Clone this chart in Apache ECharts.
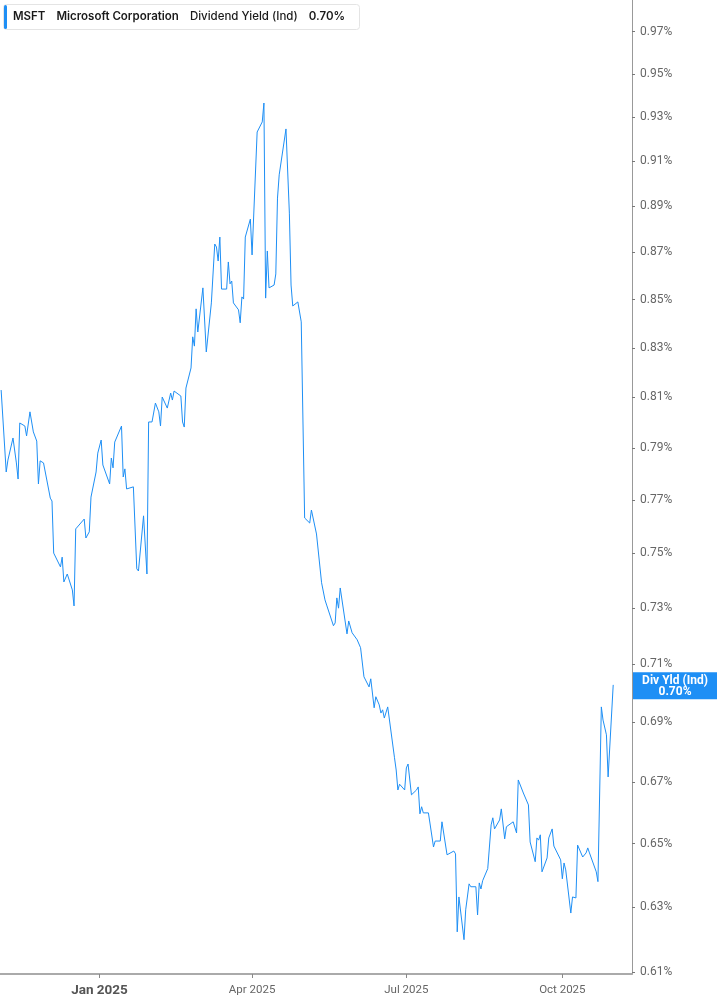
<!DOCTYPE html>
<html>
<head>
<meta charset="utf-8">
<title>MSFT Dividend Yield</title>
<script src="https://cdn.jsdelivr.net/npm/echarts@6.0.0/dist/echarts.min.js"></script>
<style>
  html, body { margin: 0; padding: 0; background: #fff; }
  #main { width: 717px; height: 1005px; }
</style>
</head>
<body>
<div id="main"></div>
<script>
var ticker = 'MSFT';
var company = 'Microsoft Corporation';
var measure = 'Dividend Yield (Ind)';
var shortMeasure = 'Div Yld (Ind)';

// trading dates
var dates = [
  '2024-11-04','2024-11-07','2024-11-08','2024-11-11','2024-11-13','2024-11-14','2024-11-15','2024-11-18','2024-11-19','2024-11-21',
  '2024-11-23','2024-11-25','2024-11-26','2024-11-27','2024-11-29','2024-12-03','2024-12-04','2024-12-05','2024-12-09','2024-12-10',
  '2024-12-11','2024-12-12','2024-12-13','2024-12-16','2024-12-17','2024-12-18','2024-12-23','2024-12-24','2024-12-26','2024-12-27',
  '2024-12-30','2024-12-31','2025-01-02','2025-01-03','2025-01-07','2025-01-08','2025-01-09','2025-01-10','2025-01-14','2025-01-15',
  '2025-01-16','2025-01-17','2025-01-21','2025-01-23','2025-01-24','2025-01-27','2025-01-29','2025-01-30','2025-02-01','2025-02-03',
  '2025-02-05','2025-02-06','2025-02-07','2025-02-10','2025-02-12','2025-02-13','2025-02-14','2025-02-18','2025-02-19','2025-02-20',
  '2025-02-21','2025-02-24','2025-02-25','2025-02-26','2025-02-27','2025-02-28','2025-03-03','2025-03-04','2025-03-05','2025-03-08',
  '2025-03-10','2025-03-11','2025-03-12','2025-03-13','2025-03-14','2025-03-17','2025-03-18','2025-03-19','2025-03-20','2025-03-21',
  '2025-03-24','2025-03-25','2025-03-26','2025-03-27','2025-03-28','2025-03-31','2025-04-01','2025-04-02','2025-04-04','2025-04-07',
  '2025-04-08','2025-04-09','2025-04-10','2025-04-11','2025-04-14','2025-04-15','2025-04-16','2025-04-17','2025-04-21','2025-04-23',
  '2025-04-24','2025-04-25','2025-04-28','2025-04-30','2025-05-02','2025-05-05','2025-05-06','2025-05-07','2025-05-09','2025-05-12',
  '2025-05-13','2025-05-14','2025-05-15','2025-05-19','2025-05-20','2025-05-21','2025-05-22','2025-05-23','2025-05-27','2025-05-28',
  '2025-05-30','2025-06-02','2025-06-04','2025-06-06','2025-06-09','2025-06-10','2025-06-12','2025-06-13','2025-06-15','2025-06-16',
  '2025-06-17','2025-06-18','2025-06-20','2025-06-24','2025-06-25','2025-06-26','2025-06-27','2025-06-30','2025-07-01','2025-07-02',
  '2025-07-04','2025-07-07','2025-07-08','2025-07-09','2025-07-10','2025-07-11','2025-07-14','2025-07-15','2025-07-16','2025-07-17',
  '2025-07-18','2025-07-21','2025-07-22','2025-07-23','2025-07-25','2025-07-29','2025-07-30','2025-07-31','2025-08-01','2025-08-04',
  '2025-08-05','2025-08-07','2025-08-08','2025-08-11','2025-08-12','2025-08-13','2025-08-14','2025-08-15','2025-08-18','2025-08-20',
  '2025-08-21','2025-08-22','2025-08-25','2025-08-26','2025-08-28','2025-08-29','2025-09-02','2025-09-04','2025-09-05','2025-09-08',
  '2025-09-09','2025-09-11','2025-09-12','2025-09-15','2025-09-16','2025-09-17','2025-09-18','2025-09-19','2025-09-22','2025-09-23',
  '2025-09-24','2025-09-25','2025-09-26','2025-09-30','2025-10-01','2025-10-02','2025-10-03','2025-10-06','2025-10-07','2025-10-09',
  '2025-10-10','2025-10-13','2025-10-15','2025-10-16','2025-10-17','2025-10-21','2025-10-22','2025-10-23','2025-10-24','2025-10-25',
  '2025-10-27','2025-10-28','2025-10-29','2025-10-31'
];

// dividend yield in %
var yieldValues = [
  0.8129,0.7807,0.7853,0.7939,0.7842,0.7780,0.7998,0.7986,0.7947,0.8042,
  0.7963,0.7927,0.7761,0.7850,0.7842,0.7707,0.7696,0.7501,0.7450,0.7486,
  0.7395,0.7388,0.7424,0.7366,0.7308,0.7591,0.7628,0.7557,0.7580,0.7711,
  0.7807,0.7880,0.7931,0.7834,0.7761,0.7861,0.7823,0.7923,0.7986,0.7788,
  0.7819,0.7742,0.7750,0.7443,0.7435,0.7640,0.7424,0.8002,0.8002,0.8077,
  0.8042,0.7986,0.8101,0.8057,0.8117,0.8089,0.8125,0.8105,0.8002,0.7982,
  0.8137,0.8218,0.8345,0.8307,0.8461,0.8365,0.8549,0.8544,0.8283,0.8486,
  0.8736,0.8723,0.8663,0.8766,0.8544,0.8544,0.8659,0.8566,0.8578,0.8486,
  0.8457,0.8403,0.8511,0.8502,0.8766,0.8844,0.8689,0.8693,0.9232,0.9278,
  0.9365,0.8506,0.8706,0.8549,0.8561,0.8608,0.8936,0.9039,0.9246,0.8870,
  0.8561,0.8473,0.8490,0.8407,0.7632,0.7613,0.7662,0.7658,0.7572,0.7392,
  0.7392,0.7330,0.7311,0.7237,0.7247,0.7337,0.7300,0.7373,0.7208,0.7254,
  0.7212,0.7187,0.7159,0.7057,0.7022,0.7050,0.6950,0.6988,0.6960,0.6932,
  0.6943,0.6915,0.6953,0.6781,0.6740,0.6674,0.6693,0.6674,0.6747,0.6760,
  0.6658,0.6674,0.6684,0.6596,0.6619,0.6599,0.6599,0.6563,0.6563,0.6489,
  0.6508,0.6508,0.6570,0.6567,0.6464,0.6476,0.6467,0.6223,0.6331,0.6199,
  0.6291,0.6372,0.6363,0.6363,0.6275,0.6375,0.6356,0.6382,0.6420,0.6560,
  0.6583,0.6547,0.6576,0.6612,0.6515,0.6554,0.6570,0.6534,0.6707,0.6664,
  0.6658,0.6625,0.6505,0.6442,0.6518,0.6511,0.6528,0.6410,0.6454,0.6518,
  0.6515,0.6547,0.6492,0.6448,0.6388,0.6438,0.6416,0.6281,0.6331,0.6328,
  0.6495,0.6457,0.6470,0.6486,0.6470,0.6410,0.6379,0.6379,0.6953,0.6908,
  0.6858,0.6717,0.6717,0.7029
];

var yTicks = [0.61, 0.63, 0.65, 0.67, 0.69, 0.71, 0.73, 0.75, 0.77, 0.79, 0.81, 0.83, 0.85, 0.87, 0.89, 0.91, 0.93, 0.95, 0.97];
var xTicks = ['2025-01-01', '2025-04-01', '2025-07-01', '2025-10-01'];
var monthNames = ['Jan', 'Feb', 'Mar', 'Apr', 'May', 'Jun', 'Jul', 'Aug', 'Sep', 'Oct', 'Nov', 'Dec'];

var blue = '#1e8ff5';
var lastValue = yieldValues[yieldValues.length - 1];

function toTime(s) {
    return new Date(s.replace(' ', 'T') + (s.length > 10 ? ':00Z' : 'T00:00:00Z')).getTime();
}

// the y scale is logarithmic: plot ln(value) on a value axis
var lineData = dates.map(function (d, i) {
    return [toTime(d), Math.log(yieldValues[i])];
});

var myChart = echarts.init(document.getElementById('main'));

var option = {
    animation: false,
    backgroundColor: '#fff',
    title: {
        left: 3,
        top: 3,
        padding: [7, 15, 7, 10],
        backgroundColor: '#fff',
        borderColor: '#e4e4e4',
        borderWidth: 1,
        borderRadius: 3,
        text: '{b|' + ticker + '}{b|' + company + '}{m|' + measure + '}{v|' + lastValue.toFixed(2) + '%}',
        textStyle: {
            rich: {
                b: { fontFamily: 'Inter', fontSize: 11.5, fontWeight: 600, color: '#1a1a1a', lineHeight: 14, padding: [0, 11, 0, 0] },
                m: { fontFamily: 'Inter', fontSize: 11.5, fontWeight: 500, color: '#1a1a1a', lineHeight: 14, padding: [0, 11, 0, 0] },
                v: { fontFamily: 'Inter', fontSize: 11.5, fontWeight: 600, color: '#1a1a1a', lineHeight: 14 }
            }
        }
    },
    graphic: [{
        type: 'rect',
        left: 4,
        top: 5,
        z: 100,
        shape: { width: 3, height: 24, r: 1.5 },
        style: { fill: blue }
    }],
    grid: {
        left: 0,
        right: 85,
        top: 0,
        bottom: 31,
        containLabel: false
    },
    xAxis: {
        type: 'value',
        min: toTime('2024-11-03 08:00'),
        max: toTime('2025-11-11 02:00'),
        axisLine: { show: true, lineStyle: { color: '#aaaaaa', width: 2 } },
        axisTick: {
            show: true,
            customValues: xTicks.map(toTime),
            length: 4,
            lineStyle: { color: '#888' }
        },
        axisLabel: {
            customValues: xTicks.map(toTime),
            margin: 10,
            fontFamily: 'Roboto',
            fontSize: 11.5,
            color: '#666',
            formatter: function (val) {
                var d = new Date(val);
                var s = monthNames[d.getUTCMonth()] + ' ' + d.getUTCFullYear();
                return d.getUTCMonth() === 0 ? '{yr|' + s + '}' : s;
            },
            rich: {
                yr: { fontFamily: 'Roboto', fontSize: 13.5, fontWeight: 'bold', color: '#555' }
            }
        },
        splitLine: { show: false }
    },
    yAxis: {
        type: 'value',
        position: 'right',
        min: Math.log(0.6095),
        max: Math.log(0.9853),
        axisLine: { show: true, lineStyle: { color: '#999', width: 1 } },
        axisTick: {
            show: true,
            customValues: yTicks.map(Math.log),
            length: 3,
            lineStyle: { color: '#777' }
        },
        axisLabel: {
            customValues: yTicks.map(Math.log),
            margin: 8,
            fontFamily: 'Roboto',
            fontSize: 12,
            color: '#666',
            formatter: function (v) {
                return Math.exp(v).toFixed(2) + '%';
            }
        },
        splitLine: { show: false }
    },
    series: [{
        name: measure,
        type: 'line',
        data: lineData,
        showSymbol: false,
        symbol: 'none',
        lineStyle: { color: blue, width: 1 },
        silent: true,
        // last value tag sitting on the right axis
        markLine: {
            silent: true,
            symbol: 'none',
            animation: false,
            lineStyle: { color: 'rgba(0,0,0,0)', width: 1, type: 'solid' },
            emphasis: { disabled: true },
            label: {
                show: true,
                position: 'end',
                distance: 1,
                offset: [0, 6],
                backgroundColor: blue,
                padding: [3, 6, 2, 6],
                formatter: function () {
                    return '{a|' + shortMeasure + '}\n{a|' + lastValue.toFixed(2) + '%}';
                },
                rich: {
                    a: { width: 72, align: 'center', color: '#fff', fontFamily: 'Roboto', fontSize: 12, fontWeight: 'bold', lineHeight: 11 }
                }
            },
            data: [{ yAxis: Math.log(lastValue) }]
        }
    }]
};

myChart.setOption(option);
</script>
</body>
</html>
